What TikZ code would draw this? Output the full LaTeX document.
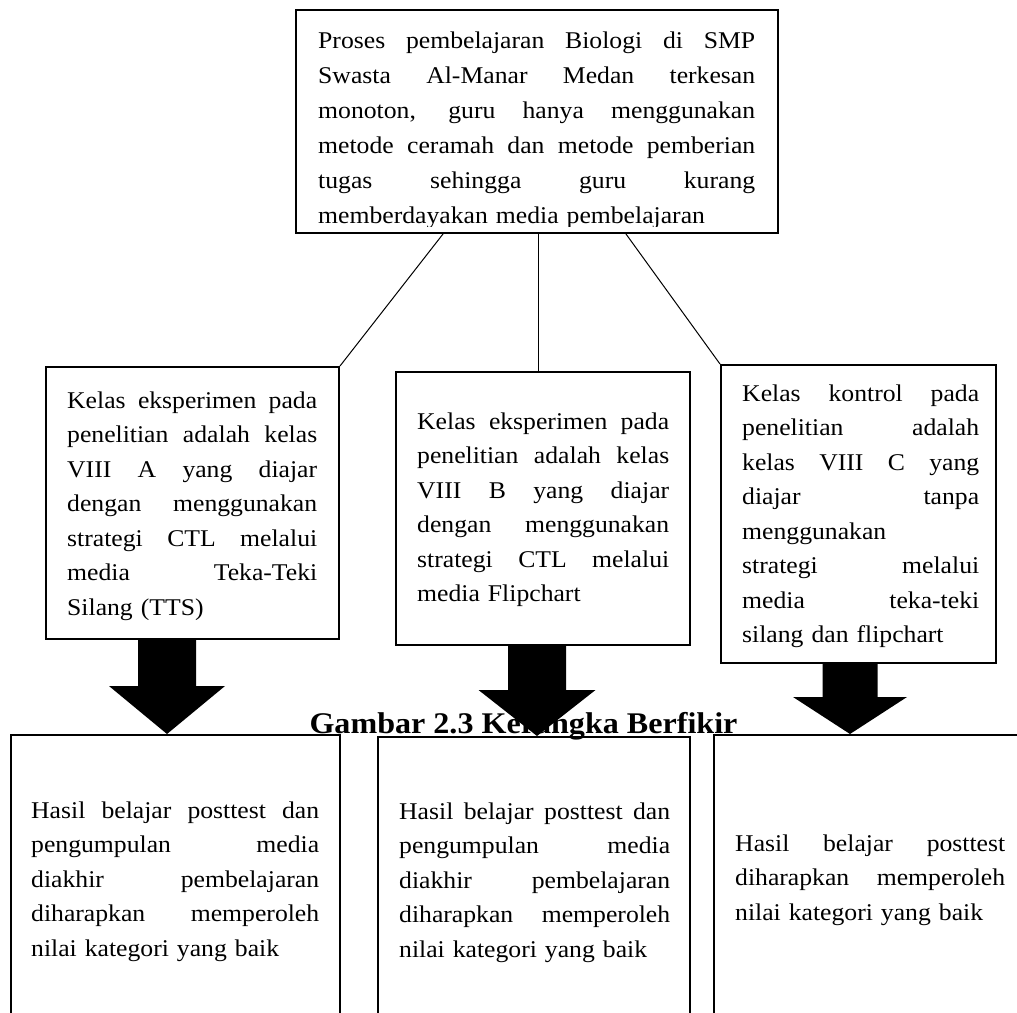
\documentclass[tikz,border=0pt]{standalone}
\usepackage{fontspec}
\setmainfont{Liberation Serif}[FakeStretch=1.07]
\usetikzlibrary{calc}
\newcommand{\jl}[1]{\leavevmode\hbox to \hsize{\spaceskip=0.25em plus 1fil\relax\xspaceskip=\spaceskip #1}\par}
\newcommand{\blockarrow}[5]{%
  \fill ($(#1)+(-#3,0)$) -- ($(#2)+(-#3,-#5)$) -- ($(#2)+(-#4,-#5)$) -- (#2)
    -- ($(#2)+(#4,-#5)$) -- ($(#2)+(#3,-#5)$) -- ($(#1)+(#3,0)$) -- cycle;}
\begin{document}
\begin{tikzpicture}[x=1pt,y=-1pt,
  box/.style={draw, line width=2pt, rectangle, inner sep=0pt},
  link/.style={line width=1pt},
  txt/.style={anchor=base west, inner sep=0pt, font=\fontsize{24}{34.5}\selectfont},
  captxt/.style={anchor=base, inner sep=0pt, font=\bfseries\fontsize{30}{36}\selectfont}]
\useasboundingbox (0,0) rectangle (1017,1012);
\clip (0,0) rectangle (1017,1012);

% boxes
\node[box, minimum width=482, minimum height=223] (top) at (537,121.5) {};
\node[box, minimum width=293, minimum height=272] (a1) at (192.5,503) {};
\node[box, minimum width=294, minimum height=273] (a2) at (543,508.5) {};
\node[box, minimum width=275, minimum height=298] (a3) at (858.5,514) {};
\node[box, minimum width=329, minimum height=320] (b1) at (175.5,895) {};
\node[box, minimum width=312, minimum height=320] (b2) at (533.5,897) {};
\node[box, minimum width=330, minimum height=320] (b3) at (879,895) {};

% connectors
\draw[link] ([xshift=-94pt]top.south) -- (a1.north east);
\draw[link] ([xshift=1pt]top.south) -- ([xshift=-5pt]a2.north);
\draw[link] ([xshift=89pt]top.south) -- (a3.north west);

% texts
\begin{scope}
\clip (296,10) rectangle (778,226);
\node[txt, text width=437pt, font=\fontsize{24}{35}\selectfont] (ttop) at (318,48) {%
\jl{Proses pembelajaran Biologi di SMP}%
\jl{Swasta Al-Manar Medan terkesan}%
\jl{monoton, guru hanya menggunakan}%
\jl{metode ceramah dan metode pemberian}%
\jl{tugas sehingga guru kurang}%
memberdayakan media pembelajaran};
\end{scope}

\node[txt, text width=250pt] (ta1) at (67,408) {%
\jl{Kelas eksperimen pada}%
\jl{penelitian adalah kelas}%
\jl{VIII A yang diajar}%
\jl{dengan menggunakan}%
\jl{strategi CTL melalui}%
\jl{media Teka-Teki}%
Silang (TTS)};

\node[txt, text width=252pt] (ta2) at (417,429) {%
\jl{Kelas eksperimen pada}%
\jl{penelitian adalah kelas}%
\jl{VIII B yang diajar}%
\jl{dengan menggunakan}%
\jl{strategi CTL melalui}%
media Flipchart};

\node[txt, text width=237pt] (ta3) at (742,401) {%
\jl{Kelas kontrol pada}%
\jl{penelitian adalah}%
\jl{kelas VIII C yang}%
\jl{diajar tanpa}%
menggunakan\par
\jl{strategi melalui}%
\jl{media teka-teki}%
silang dan flipchart};

\node[txt, text width=288pt] (tb1) at (31,818) {%
\jl{Hasil belajar posttest dan}%
\jl{pengumpulan media}%
\jl{diakhir pembelajaran}%
\jl{diharapkan memperoleh}%
nilai kategori yang baik};

\node[txt, text width=271pt] (tb2) at (399,819) {%
\jl{Hasil belajar posttest dan}%
\jl{pengumpulan media}%
\jl{diakhir pembelajaran}%
\jl{diharapkan memperoleh}%
nilai kategori yang baik};

\node[txt, text width=270pt] (tb3) at (735,851) {%
\jl{Hasil belajar posttest}%
\jl{diharapkan memperoleh}%
nilai kategori yang baik};

% caption
\node[captxt] (cap) at (523.5,733) {Gambar 2.3 Kerangka Berfikir};

% block arrows
\coordinate (ax1) at (167,0);
\coordinate (ax2) at (537,0);
\coordinate (ax3) at (850,0);
\coordinate (s1) at (a1.south -| ax1);
\coordinate (e1) at (b1.north -| ax1);
\coordinate (s2) at (a2.south -| ax2);
\coordinate (e2) at (b2.north -| ax2);
\coordinate (s3) at (a3.south -| ax3);
\coordinate (e3) at (b3.north -| ax3);
\blockarrow{s1}{e1}{29}{58}{48}
\blockarrow{s2}{e2}{29}{58.5}{46}
\blockarrow{s3}{e3}{27.5}{57}{37}
\end{tikzpicture}
\end{document}
